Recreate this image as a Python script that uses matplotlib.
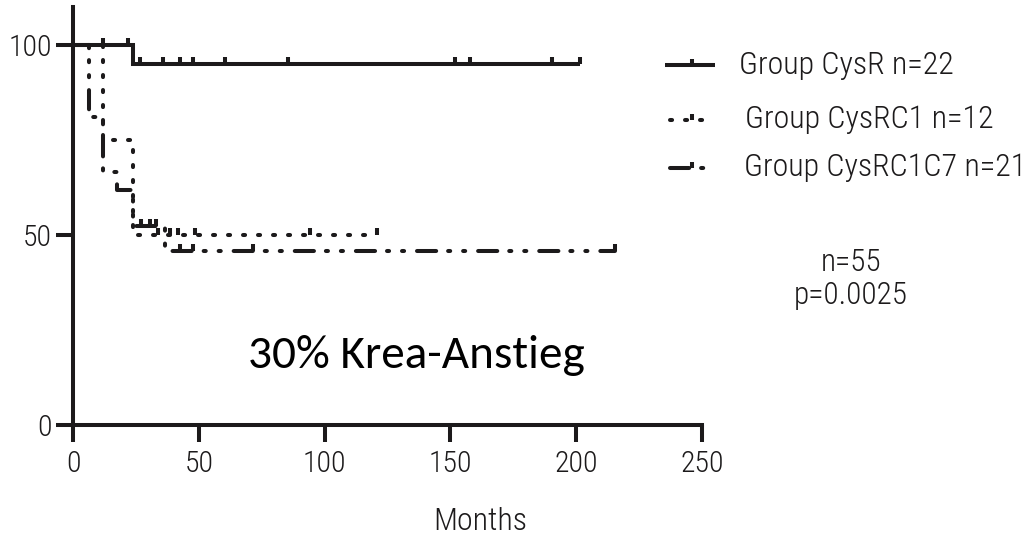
import numpy as np
import matplotlib
matplotlib.use("Agg")
import matplotlib.pyplot as plt
from matplotlib.lines import Line2D

# ---- data (months, % of patients without event) ----
group_labels = ["Group CysR n=22", "Group CysRC1 n=12", "Group CysRC1C7 n=21"]

cysr_t = [0, 24.0, 201.5]
cysr_s = [100.0, 95.0, 95.0]
cysr_cens = [12.0, 22.0, 26.6, 35.9, 42.5, 47.8, 60.4, 85.6, 151.8, 157.8, 190.3, 201.5]

c1_t = [0, 12.0, 24.0, 121.0]
c1_s = [100.0, 75.0, 50.0, 50.0]
c1_cens = [33.8, 38.5, 41.7, 48.5, 94.2, 121.0]

c17_t = [0, 6.4, 12.0, 17.5, 24.0, 36.5, 215.5]
c17_s = [100.0, 80.95, 66.67, 61.9, 52.38, 45.83, 45.83]
c17_cens = [27.0, 30.5, 33.0, 42.5, 47.7, 71.5, 215.5]

x_ticks = [0, 50, 100, 150, 200, 250]
y_ticks = [0, 50, 100]
stats_text = "n=55\np=0.0025"
inset_text = "30% Krea-Anstieg"
x_label = "Months"

# ---- styling ----
plt.rcParams["lines.scale_dashes"] = False
INK = "#1c1a1b"
LW = 2.9
NARROW = ["Roboto Condensed", "Archivo Narrow", "IBM Plex Sans Condensed", "DejaVu Sans"]
NARROW_W = 300
BODY = ["Carlito", "Lato", "DejaVu Sans"]

styles = [
    dict(linestyle="-", solid_capstyle="butt", solid_joinstyle="miter"),
    dict(linestyle=(0, (1.5, 9.3)), dash_capstyle="round", dash_joinstyle="round"),
    dict(linestyle=(0, (13.8, 8.6, 1.5, 9.3, 1.5, 9.3)), dash_capstyle="round",
         dash_joinstyle="round"),
]
series = [(cysr_t, cysr_s, cysr_cens), (c1_t, c1_s, c1_cens), (c17_t, c17_s, c17_cens)]

W, H = 1030, 541
fig = plt.figure(figsize=(W / 100, H / 100), dpi=100)
fig.patch.set_facecolor("white")
ax = fig.add_axes([73 / W, 1 - 425 / H, (702 - 73) / W, (425 - 7) / H])
ax.set_xlim(0, 250)
ax.set_ylim(0, 110)

TICK_UP = 1.9  # height of censor marks in % units


def surv_at(t, s, x):
    i = np.searchsorted(np.asarray(t), x, side="right") - 1
    return np.asarray(s)[i]


for (t, s, cens), st in zip(series, styles):
    ax.step(t, s, where="post", color=INK, lw=LW, clip_on=False, **st)
    cs = surv_at(t, s, np.asarray(cens))
    ax.vlines(cens, cs, cs + TICK_UP, color=INK, lw=LW, clip_on=False)

# axes frame
for side in ("top", "right"):
    ax.spines[side].set_visible(False)
for side in ("left", "bottom"):
    ax.spines[side].set_linewidth(LW)
    ax.spines[side].set_color(INK)
    ax.spines[side].set_capstyle("projecting")
ax.spines["left"].set_bounds(0, 110)
ax.spines["bottom"].set_bounds(0, 250)

ax.set_xticks(x_ticks)
ax.set_yticks(y_ticks)
ax.tick_params(axis="both", direction="out", length=12, width=LW, color=INK,
               labelcolor=INK, labelsize=21.5)
ax.tick_params(axis="y", pad=3)
ax.tick_params(axis="x", pad=6)
for lab in ax.get_xticklabels() + ax.get_yticklabels():
    lab.set_family(NARROW)
    lab.set_fontweight(NARROW_W)

# x axis title
fig.text(480 / W, 1 - 522 / H, x_label, ha="center", va="center",
         family=NARROW, fontweight=NARROW_W, fontsize=23, color=INK)

# legend drawn by hand
rows_y = [65, 120, 168]
text_x = [739, 745, 744]
for lbl, st, ry, tx in zip(group_labels, styles, rows_y, text_x):
    yf = 1 - ry / H
    x0 = 665 if st["linestyle"] == "-" else 670
    x1 = 715 if st["linestyle"] == "-" else 710
    fig.add_artist(Line2D([x0 / W, x1 / W], [yf, yf], transform=fig.transFigure,
                          color=INK, lw=LW, **st))
    fig.add_artist(Line2D([692 / W, 692 / W], [yf, yf + 6 / H], transform=fig.transFigure,
                          color=INK, lw=LW, solid_capstyle="butt"))
    fig.text(tx / W, yf, lbl, ha="left", va="center", family=NARROW,
             fontweight=NARROW_W, fontsize=23, color=INK)

fig.text(851 / W, 1 - 279 / H, stats_text, ha="center", va="center",
         family=NARROW, fontweight=NARROW_W, fontsize=22.5, color=INK, linespacing=1.2)

fig.text(416 / W, 1 - 355 / H, inset_text, ha="center", va="center",
         family=BODY, fontsize=34, color="black")

fig.savefig("out.png", dpi=100, facecolor="white")
